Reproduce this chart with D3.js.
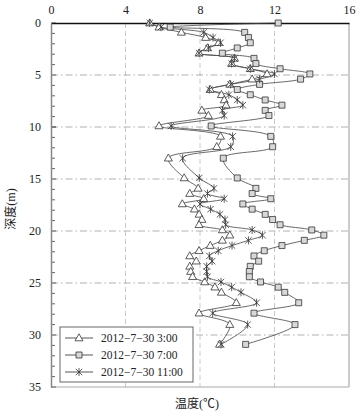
<!DOCTYPE html>
<html>
<head>
<meta charset="utf-8">
<script src="https://cdn.jsdelivr.net/npm/d3@7"></script>
<style>
  body { margin: 0; background: #fff; }
  text { font-family: "Liberation Serif", "Noto Sans CJK SC", serif; fill: #222; }
</style>
</head>
<body>
<div id="chart"></div>
<script>
// data: depth (m) and temperature (℃) for three times
var depth = [0, 0.4, 0.9, 1.4, 1.9, 2.4, 2.9, 3.4, 3.9, 4.4, 4.9, 5.4, 5.9, 6.4, 6.9, 7.4, 7.9, 8.4, 8.9,
  9.9, 10.9, 11.9, 13.0, 14.9, 15.9,
  16.4, 16.9, 17.4, 17.9, 18.4, 18.9, 19.4, 19.9, 20.4, 20.9, 21.4, 21.9, 22.4, 22.9, 23.4, 23.9, 24.4, 24.9, 25.4, 25.9,
  26.9, 27.9, 29.0, 30.9];

var temp0300 = [5.3, 5.8, 7.0, 8.3, 9.0, 8.4, 7.95, 9.85, 9.7, 10.7, 11.6, 10.8, 9.6, 8.55, 9.15, 9.3, 9.4, 8.1, 8.45,
  5.8, 9.1, 8.9, 6.3, 7.15, 7.9,
  7.45, 8.2, 7.05, 7.7, 7.95, 8.1, 7.95, 9.2, 9.6, 9.2, 8.55, 7.95, 7.45, 7.8, 7.45, 7.5, 7.6, 8.25, 8.8, 9.15,
  9.95, 7.95, 9.6, 9.05];

var temp0700 = [12.2, 6.4, 10.4, 10.6, 10.7, 10.0, 9.2, 10.9, 11.0, 12.3, 13.9, 13.4, 11.2, 10.0, 10.7, 11.5, 12.4, 11.5, 11.7,
  8.6, 11.8, 11.9, 9.25, 10.0, 11.0,
  10.8, 11.8, 10.3, 10.8, 11.5, 11.9, 12.3, 14.0, 14.65, 13.6, 12.4, 11.45, 10.9, 11.15, 10.7, 10.65, 10.65, 11.25, 12.2, 12.55,
  13.3, 10.9, 13.1, 10.45];

var temp1100 = [5.3, 5.9, 8.2, 8.7, 9.1, 8.45, 7.95, 9.85, 9.7, 10.7, 12.0, 11.2, 9.65, 8.5, 9.55, 10.0, 10.3, 9.2, 9.3,
  6.45, 9.75, 9.65, 7.07, 7.96, 8.75,
  8.4, 9.3, 8.0, 8.57, 9.07, 9.34, 9.38, 10.8, 11.35, 10.6, 9.72, 8.98, 8.5, 8.65, 8.36, 8.36, 8.4, 9.13, 9.7, 10.2,
  11.04, 8.68, 10.56, 9.13];

var seriesNames = ["2012\u22127\u221230 3:00", "2012\u22127\u221230 7:00", "2012\u22127\u221230 11:00"];
var markerTypes = ["triangle", "square", "asterisk"];
var xTicks = [0, 4, 8, 12, 16];
var yTicks = [0, 5, 10, 15, 20, 25, 30, 35];
var yMinorTicks = d3.range(0, 36, 1);

var svgWidth = 361;
var svgHeight = 415;
var margin = { top: 23, right: 12, bottom: 28, left: 51 };
var width = svgWidth - margin.left - margin.right;
var height = svgHeight - margin.top - margin.bottom;

var svg = d3.select("#chart")
  .append("svg")
  .attr("width", svgWidth)
  .attr("height", svgHeight);

var chartGroup = svg.append("g")
  .attr("transform", `translate(${margin.left}, ${margin.top})`);

var xScale = d3.scaleLinear().domain([0, 16]).range([0, width]);
var yScale = d3.scaleLinear().domain([0, 35]).range([0, height]);

// grid lines
chartGroup.selectAll("line.vgrid")
  .data(xTicks.filter(d => d > 0 && d < 16))
  .enter()
  .append("line")
  .attr("x1", d => xScale(d)).attr("x2", d => xScale(d))
  .attr("y1", 0).attr("y2", height)
  .attr("stroke", "#c4c4c4")
  .attr("stroke-width", 0.9)
  .attr("stroke-dasharray", "5,3");

chartGroup.selectAll("line.hgrid")
  .data(yTicks.filter(d => d > 0 && d < 35))
  .enter()
  .append("line")
  .attr("x1", 0).attr("x2", width)
  .attr("y1", d => yScale(d)).attr("y2", d => yScale(d))
  .attr("stroke", "#a8a8a8")
  .attr("stroke-width", 0.9)
  .attr("stroke-dasharray", "7,3,1.5,3");

// frame
chartGroup.append("line").attr("x1", width).attr("x2", width).attr("y1", 0).attr("y2", height)
  .attr("stroke", "#aaa").attr("stroke-width", 1.2);
chartGroup.append("line").attr("x1", 0).attr("x2", width).attr("y1", height).attr("y2", height)
  .attr("stroke", "#aaa").attr("stroke-width", 1.2);

// minor ticks on the left, pointing inward
chartGroup.selectAll("line.minor")
  .data(yMinorTicks)
  .enter()
  .append("line")
  .attr("x1", 0).attr("x2", d => d % 5 === 0 ? 5 : 4)
  .attr("y1", d => yScale(d)).attr("y2", d => yScale(d))
  .attr("stroke", d => d === 10 ? "#222" : "#666")
  .attr("stroke-width", 1);

// axes
var xAxis = d3.axisTop(xScale).tickValues(xTicks).tickSize(0).tickPadding(9);
var yAxis = d3.axisLeft(yScale).tickValues(yTicks).tickSize(0).tickPadding(10);

var gx = chartGroup.append("g").call(xAxis);
gx.select(".domain").attr("stroke", "#111").attr("stroke-width", 1.4);
gx.selectAll("text").attr("font-size", "12px").attr("font-family", "Liberation Serif").attr("fill", "#222");

var gy = chartGroup.append("g").call(yAxis);
gy.select(".domain").attr("stroke", "#888").attr("stroke-width", 1.5);
gy.selectAll("text").attr("font-size", "12px").attr("font-family", "Liberation Serif").attr("fill", "#222");

// marker shapes
function markerPath(type) {
  if (type === "triangle") return "M0,-4.2L4,2.8L-4,2.8Z";
  if (type === "square") return "M-3,-3H3V3H-3Z";
  return "M-3.2,-3.2L3.2,3.2M-3.2,3.2L3.2,-3.2M0,-4L0,4";
}

var series = [temp0300, temp0700, temp1100].map(function(vals, i) {
  return { name: seriesNames[i], marker: markerTypes[i],
           values: vals.map((v, j) => ({ t: v, d: depth[j] })) };
});

var line = d3.line()
  .x(p => xScale(p.t))
  .y(p => yScale(p.d))
  .curve(d3.curveCatmullRom.alpha(0.5));

series.forEach(function(s) {
  chartGroup.append("path")
    .datum(s.values)
    .attr("d", line)
    .attr("fill", "none")
    .attr("stroke", "#444")
    .attr("stroke-width", 0.8);
});

series.forEach(function(s) {
  chartGroup.selectAll("path.m-" + s.marker)
    .data(s.values)
    .enter()
    .append("path")
    .attr("class", "m-" + s.marker)
    .attr("transform", p => `translate(${xScale(p.t)}, ${yScale(p.d)})`)
    .attr("d", markerPath(s.marker))
    .attr("fill", s.marker === "square" ? "#d8d8d8" : (s.marker === "triangle" ? "#fff" : "none"))
    .attr("stroke", "#333")
    .attr("stroke-width", 0.8);
});

// legend
var legend = chartGroup.append("g")
  .attr("transform", `translate(${60 - margin.left}, ${327 - margin.top})`);

legend.append("rect")
  .attr("width", 133).attr("height", 55)
  .attr("fill", "#fff")
  .attr("stroke", "#666")
  .attr("stroke-width", 1);

series.forEach(function(s, i) {
  var row = legend.append("g").attr("transform", `translate(0, ${11 + i * 17})`);
  row.append("line").attr("x1", 5).attr("x2", 33).attr("y1", 0).attr("y2", 0)
    .attr("stroke", "#444").attr("stroke-width", 0.9);
  row.append("path").attr("transform", "translate(19, 0)")
    .attr("d", markerPath(s.marker))
    .attr("fill", s.marker === "square" ? "#d8d8d8" : (s.marker === "triangle" ? "#fff" : "none"))
    .attr("stroke", "#333").attr("stroke-width", 0.8);
  row.append("text").attr("x", 41).attr("dy", "0.35em")
    .attr("font-size", "11.5px")
    .text(s.name);
});

// axis titles
svg.append("text")
  .attr("x", margin.left + width / 2 - 3)
  .attr("y", 408)
  .attr("text-anchor", "middle")
  .attr("font-size", "12px")
  .text("温度(℃)");

svg.append("text")
  .attr("transform", "rotate(-90)")
  .attr("x", -209)
  .attr("y", 15)
  .attr("text-anchor", "middle")
  .attr("font-size", "12px")
  .text("深度(m)");
</script>
</body>
</html>
